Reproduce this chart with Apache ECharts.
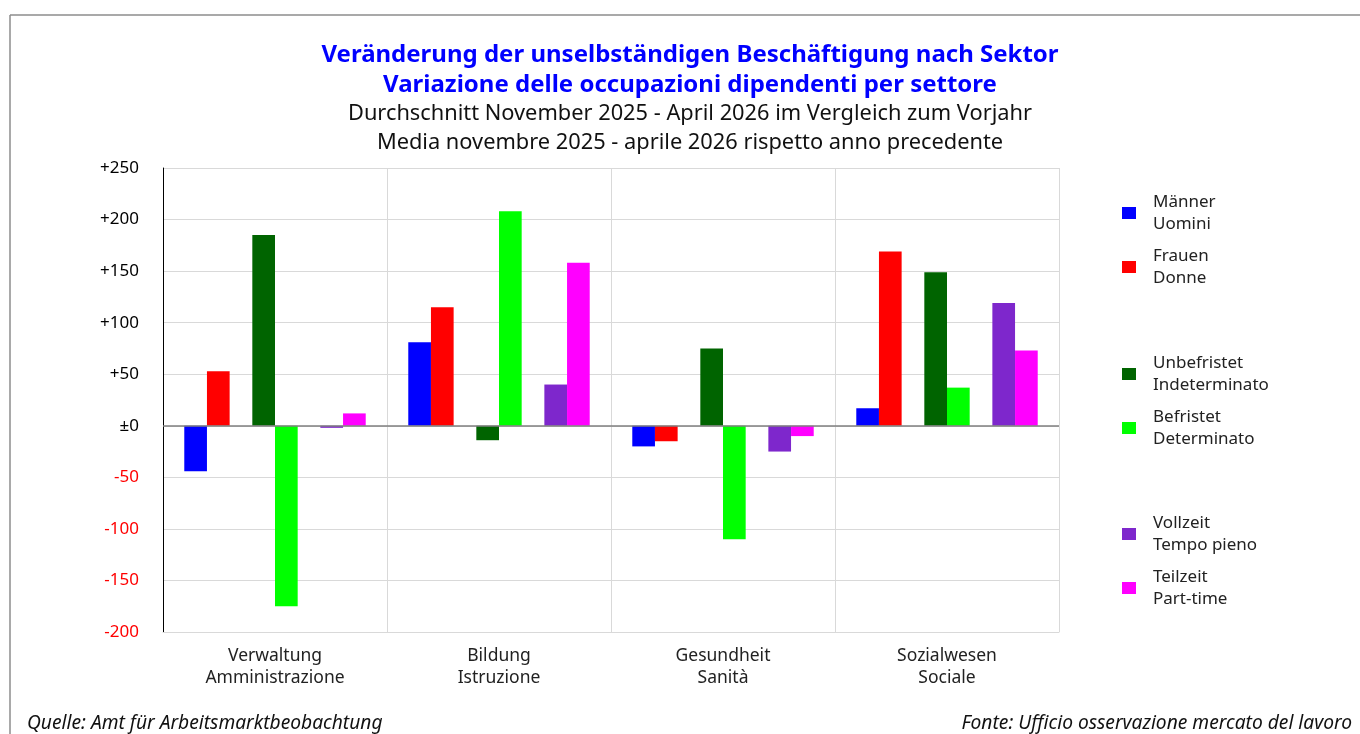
<!DOCTYPE html>
<html>
<head>
<meta charset="utf-8">
<title>Beschäftigung nach Sektor</title>
<script src="https://cdn.jsdelivr.net/npm/echarts@6.0.0/dist/echarts.min.js"></script>
<style>
  html, body { margin: 0; padding: 0; background: #fff; }
  #main { width: 1360px; height: 734px; }
</style>
</head>
<body>
<div id="main"></div>
<script>
// Sektoren (DE / IT)
const sectors = ['Verwaltung\nAmministrazione', 'Bildung\nIstruzione', 'Gesundheit\nSanità', 'Sozialwesen\nSociale'];

// Veränderung zum Vorjahr
const maenner     = [-44, 81, -20, 17];
const frauen      = [53, 115, -15, 169];
const unbefristet = [185, -14, 75, 149];
const befristet   = [-175, 208, -110, 37];
const vollzeit    = [-2, 40, -25, 119];
const teilzeit    = [12, 158, -10, 73];

// Achse
const yMin = -200;
const yMax = 250;
const yStep = 50;

const titleLines = [
  'Veränderung der unselbständigen Beschäftigung nach Sektor',
  'Variazione delle occupazioni dipendenti per settore',
  'Durchschnitt November 2025 - April 2026 im Vergleich zum Vorjahr',
  'Media novembre 2025 - aprile 2026 rispetto anno precedente'
];
const sourceLeft = 'Quelle: Amt für Arbeitsmarktbeobachtung';
const sourceRight = 'Fonte: Ufficio osservazione mercato del lavoro';

const FONT = 'Noto Sans';
const gridColor = '#d9d9d9';

let myChart = echarts.init(document.getElementById('main'));

function barSeries(name, data, color) {
  return {
    name: name,
    type: 'bar',
    data: data,
    barGap: '0%',
    barCategoryGap: '19%',
    itemStyle: { color: color },
    emphasis: { disabled: true }
  };
}

// leere Serie als Abstand zwischen den Paaren (wie im Original)
function spacer(name) {
  return barSeries(name, sectors.map(() => null), 'transparent');
}

function legendBlock(names, top) {
  return {
    orient: 'vertical',
    left: 1117,
    top: top,
    data: names,
    icon: 'rect',
    itemWidth: 14,
    itemHeight: 12,
    itemGap: 10,
    selectedMode: false,
    textStyle: { fontFamily: FONT, fontSize: 17, color: '#222', lineHeight: 22, padding: [0, 0, 0, 12] }
  };
}

const zeroLine = {
  silent: true,
  symbol: 'none',
  label: { show: false },
  lineStyle: { color: '#7f7f7f', width: 1.5, type: 'solid' },
  data: [{ yAxis: 0 }]
};

const series = [
  barSeries('Männer\nUomini', maenner, '#0000ff'),
  barSeries('Frauen\nDonne', frauen, '#ff0000'),
  spacer('leer1'),
  barSeries('Unbefristet\nIndeterminato', unbefristet, '#006400'),
  barSeries('Befristet\nDeterminato', befristet, '#00ff00'),
  spacer('leer2'),
  barSeries('Vollzeit\nTempo pieno', vollzeit, '#7e27cc'),
  barSeries('Teilzeit\nPart-time', teilzeit, '#ff00ff')
];
series[0].markLine = zeroLine;

myChart.setOption({
  animation: false,
  textStyle: { fontFamily: FONT },
  grid: { left: 163, right: 301, top: 168, bottom: 102 },
  legend: [
    legendBlock(['Männer\nUomini', 'Frauen\nDonne'], 186),
    legendBlock(['Unbefristet\nIndeterminato', 'Befristet\nDeterminato'], 347),
    legendBlock(['Vollzeit\nTempo pieno', 'Teilzeit\nPart-time'], 507)
  ],
  xAxis: {
    type: 'category',
    data: sectors,
    position: 'bottom',
    axisLine: { onZero: false, lineStyle: { color: gridColor } },
    axisTick: { show: false },
    splitLine: { show: true, lineStyle: { color: gridColor } },
    axisLabel: { fontFamily: FONT, fontSize: 17.5, color: '#222', lineHeight: 22, margin: 13 }
  },
  yAxis: {
    type: 'value',
    min: yMin,
    max: yMax,
    interval: yStep,
    axisLine: { show: true, lineStyle: { color: '#000' } },
    axisTick: { show: false },
    splitLine: { lineStyle: { color: gridColor } },
    axisLabel: {
      margin: 24,
      fontFamily: FONT,
      fontSize: 17,
      color: '#000',
      formatter: function (v) {
        if (v > 0) return '+' + v;
        if (v === 0) return '±0';
        return '{neg|' + v + '}';
      },
      rich: { neg: { color: '#ff0000', fontFamily: FONT, fontSize: 17 } }
    }
  },
  series: series,
  graphic: [
    // Rahmen
    { type: 'line', silent: true, shape: { x1: 10, y1: 15, x2: 1360, y2: 15 }, style: { stroke: '#8c8c8c', lineWidth: 1.5 } },
    { type: 'line', silent: true, shape: { x1: 10, y1: 15, x2: 10, y2: 734 }, style: { stroke: '#8c8c8c', lineWidth: 1.5 } },
    // Titel
    { type: 'text', x: 690, y: 55, style: { text: titleLines[0], fill: '#0000ff', font: 'bold 24px "Noto Sans"', align: 'center', verticalAlign: 'middle' } },
    { type: 'text', x: 690, y: 85, style: { text: titleLines[1], fill: '#0000ff', font: 'bold 24px "Noto Sans"', align: 'center', verticalAlign: 'middle' } },
    { type: 'text', x: 690, y: 114, style: { text: titleLines[2], fill: '#111', font: '21.8px "Noto Sans"', align: 'center', verticalAlign: 'middle' } },
    { type: 'text', x: 690, y: 143, style: { text: titleLines[3], fill: '#111', font: '21.8px "Noto Sans"', align: 'center', verticalAlign: 'middle' } },
    // Quellen
    { type: 'text', x: 27, y: 724, style: { text: sourceLeft, fill: '#111', font: 'italic 19.2px "Noto Sans"', align: 'left', verticalAlign: 'middle' } },
    { type: 'text', x: 1352, y: 724, style: { text: sourceRight, fill: '#111', font: 'italic 19.2px "Noto Sans"', align: 'right', verticalAlign: 'middle' } }
  ]
});

window.addEventListener('resize', function () { myChart.resize(); });
</script>
</body>
</html>
